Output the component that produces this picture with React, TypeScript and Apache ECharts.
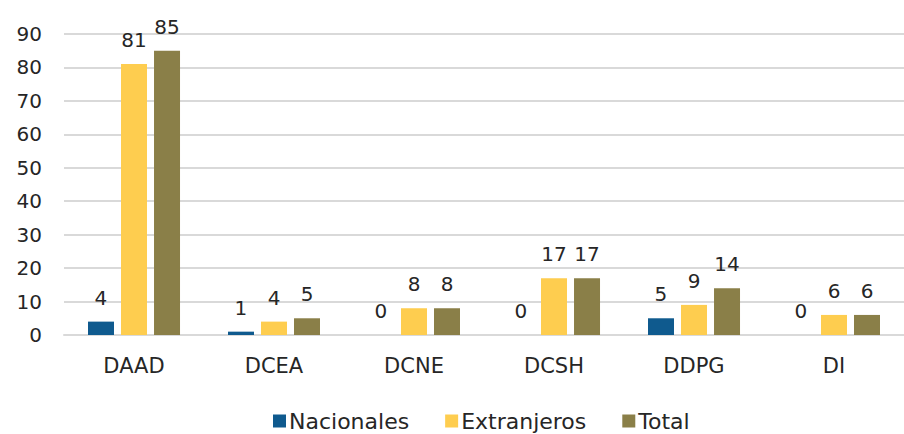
import React, { useEffect, useRef } from "react";
import * as echarts from "echarts";

const categories = ["DAAD", "DCEA", "DCNE", "DCSH", "DDPG", "DI"];
const nacionales = [4, 1, 0, 0, 5, 0];
const extranjeros = [81, 4, 8, 17, 9, 6];
const total = [85, 5, 8, 17, 14, 6];
const seriesNames = ["Nacionales", "Extranjeros", "Total"];
const colors = ["#0f5a8e", "#fecd4f", "#8a7f48"];

const FONT = "'DejaVu Sans', 'Open Sans', sans-serif";

export default function App() {
  const ref = useRef<HTMLDivElement>(null);
  useEffect(() => {
    if (!ref.current) return;
    const chart = echarts.init(ref.current, undefined, { renderer: "svg" });
    const data = [nacionales, extranjeros, total];
    chart.setOption({
      animation: false,
      grid: { left: 64, right: -12, top: 34, bottom: 99, containLabel: false },
      legend: {
        data: seriesNames,
        bottom: -3,
        left: 268,
        itemWidth: 13,
        itemHeight: 13,
        itemGap: 36,
        icon: "rect",
        textStyle: { fontFamily: FONT, fontSize: 22, color: "#262626", padding: [0, 0, 0, -2] },
      },
      xAxis: {
        type: "category",
        data: categories,
        axisTick: { show: false },
        axisLine: { lineStyle: { color: "#d9d9d9", width: 2 } },
        axisLabel: { fontFamily: FONT, fontSize: 21, color: "#262626", margin: 20 },
      },
      yAxis: {
        type: "value",
        min: 0,
        max: 90,
        interval: 10,
        axisLine: { show: false },
        axisTick: { show: false },
        splitLine: { lineStyle: { color: "#d9d9d9", width: 2 } },
        axisLabel: { fontFamily: FONT, fontSize: 20, color: "#262626", margin: 22 },
      },
      series: seriesNames.map((name, i) => ({
        name,
        type: "bar",
        data: data[i],
        barWidth: 26,
        barGap: "27%",
        itemStyle: { color: colors[i] },
        label: {
          show: true,
          position: "top",
          distance: 14,
          fontFamily: FONT,
          fontSize: 20,
          color: "#262626",
        },
      })),
    });
    return () => chart.dispose();
  }, []);
  return <div ref={ref} style={{ width: 904, height: 434, position: "absolute", left: 0, top: 0 }} />;
}
